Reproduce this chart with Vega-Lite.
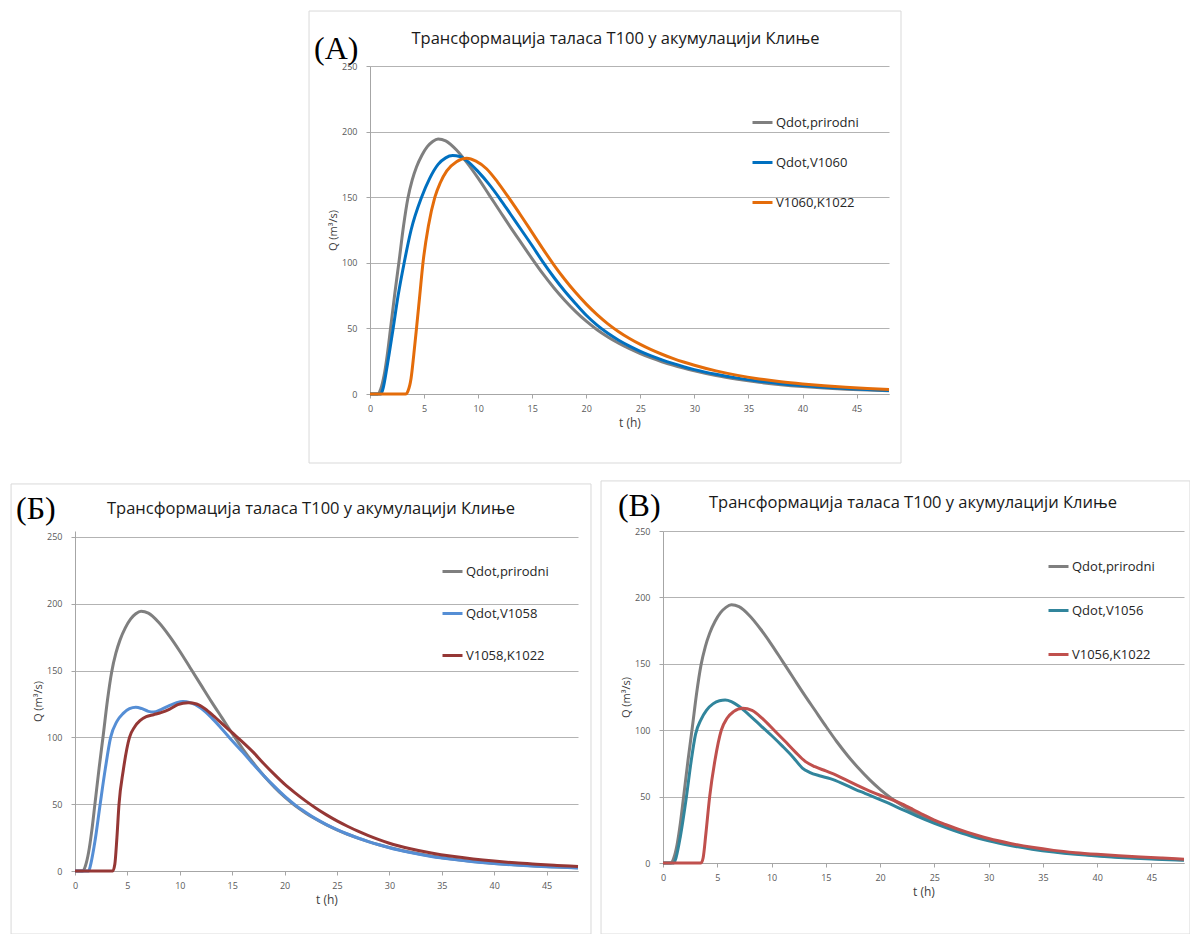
{
"$schema": "https://vega.github.io/schema/vega-lite/v6.json",
"padding": {"left": 10, "top": 10, "right": 0, "bottom": 0},
"background": "white",
"data": {"values": [
{"panel":"all","series":"Qdot,prirodni","t":0,"q":0},{"panel":"all","series":"Qdot,prirodni","t":0.7,"q":0},{"panel":"all","series":"Qdot,prirodni","t":1.0,"q":4},{"panel":"all","series":"Qdot,prirodni","t":1.3,"q":14},{"panel":"all","series":"Qdot,prirodni","t":1.6,"q":30},{"panel":"all","series":"Qdot,prirodni","t":1.9,"q":50},{"panel":"all","series":"Qdot,prirodni","t":2.3,"q":77},{"panel":"all","series":"Qdot,prirodni","t":2.7,"q":102},{"panel":"all","series":"Qdot,prirodni","t":3.1,"q":128},{"panel":"all","series":"Qdot,prirodni","t":3.5,"q":149},{"panel":"all","series":"Qdot,prirodni","t":3.9,"q":163},{"panel":"all","series":"Qdot,prirodni","t":4.3,"q":173},{"panel":"all","series":"Qdot,prirodni","t":4.8,"q":182},{"panel":"all","series":"Qdot,prirodni","t":5.3,"q":188.5},{"panel":"all","series":"Qdot,prirodni","t":5.8,"q":192.5},{"panel":"all","series":"Qdot,prirodni","t":6.3,"q":194.4},{"panel":"all","series":"Qdot,prirodni","t":7.0,"q":193},{"panel":"all","series":"Qdot,prirodni","t":8,"q":186},{"panel":"all","series":"Qdot,prirodni","t":9,"q":176},{"panel":"all","series":"Qdot,prirodni","t":10,"q":164.5},{"panel":"all","series":"Qdot,prirodni","t":11,"q":152},{"panel":"all","series":"Qdot,prirodni","t":12,"q":139.5},{"panel":"all","series":"Qdot,prirodni","t":13,"q":127},{"panel":"all","series":"Qdot,prirodni","t":14,"q":115},{"panel":"all","series":"Qdot,prirodni","t":15,"q":103},{"panel":"all","series":"Qdot,prirodni","t":16,"q":91.5},{"panel":"all","series":"Qdot,prirodni","t":17,"q":81},{"panel":"all","series":"Qdot,prirodni","t":18,"q":71.5},{"panel":"all","series":"Qdot,prirodni","t":19,"q":63},{"panel":"all","series":"Qdot,prirodni","t":20,"q":55.5},{"panel":"all","series":"Qdot,prirodni","t":21,"q":49},{"panel":"all","series":"Qdot,prirodni","t":22,"q":43.5},{"panel":"all","series":"Qdot,prirodni","t":23,"q":38.7},{"panel":"all","series":"Qdot,prirodni","t":24,"q":34.5},{"panel":"all","series":"Qdot,prirodni","t":25,"q":30.8},{"panel":"all","series":"Qdot,prirodni","t":26,"q":27.5},{"panel":"all","series":"Qdot,prirodni","t":27,"q":24.6},{"panel":"all","series":"Qdot,prirodni","t":28,"q":22},{"panel":"all","series":"Qdot,prirodni","t":29,"q":19.7},{"panel":"all","series":"Qdot,prirodni","t":30,"q":17.6},{"panel":"all","series":"Qdot,prirodni","t":32,"q":14},{"panel":"all","series":"Qdot,prirodni","t":34,"q":11.2},{"panel":"all","series":"Qdot,prirodni","t":36,"q":8.9},{"panel":"all","series":"Qdot,prirodni","t":38,"q":7.1},{"panel":"all","series":"Qdot,prirodni","t":40,"q":5.7},{"panel":"all","series":"Qdot,prirodni","t":42,"q":4.6},{"panel":"all","series":"Qdot,prirodni","t":44,"q":3.7},{"panel":"all","series":"Qdot,prirodni","t":46,"q":3},{"panel":"all","series":"Qdot,prirodni","t":48,"q":2.4},

{"panel":"A","series":"Qdot,V1060","t":0,"q":0},{"panel":"A","series":"Qdot,V1060","t":1.0,"q":0},{"panel":"A","series":"Qdot,V1060","t":1.2,"q":4},{"panel":"A","series":"Qdot,V1060","t":1.6,"q":22},{"panel":"A","series":"Qdot,V1060","t":2.14,"q":50},{"panel":"A","series":"Qdot,V1060","t":2.6,"q":75},{"panel":"A","series":"Qdot,V1060","t":3.16,"q":100},{"panel":"A","series":"Qdot,V1060","t":3.8,"q":125},{"panel":"A","series":"Qdot,V1060","t":4.77,"q":150},{"panel":"A","series":"Qdot,V1060","t":5.5,"q":164},{"panel":"A","series":"Qdot,V1060","t":6.3,"q":175},{"panel":"A","series":"Qdot,V1060","t":7.0,"q":180},{"panel":"A","series":"Qdot,V1060","t":7.65,"q":181.7},{"panel":"A","series":"Qdot,V1060","t":8.3,"q":181},{"panel":"A","series":"Qdot,V1060","t":9.0,"q":177.5},{"panel":"A","series":"Qdot,V1060","t":10,"q":169.5},{"panel":"A","series":"Qdot,V1060","t":11,"q":160},{"panel":"A","series":"Qdot,V1060","t":12,"q":149},{"panel":"A","series":"Qdot,V1060","t":13,"q":137},{"panel":"A","series":"Qdot,V1060","t":14,"q":125},{"panel":"A","series":"Qdot,V1060","t":15,"q":113},{"panel":"A","series":"Qdot,V1060","t":16,"q":100.5},{"panel":"A","series":"Qdot,V1060","t":17,"q":89},{"panel":"A","series":"Qdot,V1060","t":18,"q":78.5},{"panel":"A","series":"Qdot,V1060","t":19,"q":69},{"panel":"A","series":"Qdot,V1060","t":20,"q":60},{"panel":"A","series":"Qdot,V1060","t":21,"q":52.5},{"panel":"A","series":"Qdot,V1060","t":22,"q":46.3},{"panel":"A","series":"Qdot,V1060","t":23,"q":41},{"panel":"A","series":"Qdot,V1060","t":24,"q":36.5},{"panel":"A","series":"Qdot,V1060","t":25,"q":32.5},{"panel":"A","series":"Qdot,V1060","t":26,"q":29},{"panel":"A","series":"Qdot,V1060","t":27,"q":26},{"panel":"A","series":"Qdot,V1060","t":28,"q":23.3},{"panel":"A","series":"Qdot,V1060","t":29,"q":20.8},{"panel":"A","series":"Qdot,V1060","t":30,"q":18.6},{"panel":"A","series":"Qdot,V1060","t":32,"q":15},{"panel":"A","series":"Qdot,V1060","t":34,"q":12.1},{"panel":"A","series":"Qdot,V1060","t":36,"q":9.8},{"panel":"A","series":"Qdot,V1060","t":38,"q":7.9},{"panel":"A","series":"Qdot,V1060","t":40,"q":6.4},{"panel":"A","series":"Qdot,V1060","t":42,"q":5.2},{"panel":"A","series":"Qdot,V1060","t":44,"q":4.2},{"panel":"A","series":"Qdot,V1060","t":46,"q":3.4},{"panel":"A","series":"Qdot,V1060","t":48,"q":2.7},

{"panel":"A","series":"V1060,K1022","t":0,"q":0},{"panel":"A","series":"V1060,K1022","t":3.3,"q":0},{"panel":"A","series":"V1060,K1022","t":3.5,"q":2},{"panel":"A","series":"V1060,K1022","t":3.8,"q":12},{"panel":"A","series":"V1060,K1022","t":4.05,"q":30},{"panel":"A","series":"V1060,K1022","t":4.3,"q":50},{"panel":"A","series":"V1060,K1022","t":4.6,"q":75},{"panel":"A","series":"V1060,K1022","t":4.9,"q":100},{"panel":"A","series":"V1060,K1022","t":5.4,"q":128},{"panel":"A","series":"V1060,K1022","t":6.0,"q":150},{"panel":"A","series":"V1060,K1022","t":6.5,"q":161},{"panel":"A","series":"V1060,K1022","t":7.1,"q":170},{"panel":"A","series":"V1060,K1022","t":8.0,"q":177},{"panel":"A","series":"V1060,K1022","t":8.95,"q":179.6},{"panel":"A","series":"V1060,K1022","t":9.8,"q":177.5},{"panel":"A","series":"V1060,K1022","t":10.8,"q":171.5},{"panel":"A","series":"V1060,K1022","t":11.8,"q":161.5},{"panel":"A","series":"V1060,K1022","t":12.8,"q":150},{"panel":"A","series":"V1060,K1022","t":14,"q":135.5},{"panel":"A","series":"V1060,K1022","t":15,"q":123},{"panel":"A","series":"V1060,K1022","t":16,"q":110.5},{"panel":"A","series":"V1060,K1022","t":17,"q":98.5},{"panel":"A","series":"V1060,K1022","t":18,"q":87.5},{"panel":"A","series":"V1060,K1022","t":19,"q":77.5},{"panel":"A","series":"V1060,K1022","t":20,"q":68.5},{"panel":"A","series":"V1060,K1022","t":21,"q":60.5},{"panel":"A","series":"V1060,K1022","t":22,"q":53.5},{"panel":"A","series":"V1060,K1022","t":23,"q":47.5},{"panel":"A","series":"V1060,K1022","t":24,"q":42.3},{"panel":"A","series":"V1060,K1022","t":25,"q":37.8},{"panel":"A","series":"V1060,K1022","t":26,"q":33.8},{"panel":"A","series":"V1060,K1022","t":27,"q":30.3},{"panel":"A","series":"V1060,K1022","t":28,"q":27.2},{"panel":"A","series":"V1060,K1022","t":29,"q":24.4},{"panel":"A","series":"V1060,K1022","t":30,"q":21.9},{"panel":"A","series":"V1060,K1022","t":32,"q":17.6},{"panel":"A","series":"V1060,K1022","t":34,"q":14.2},{"panel":"A","series":"V1060,K1022","t":36,"q":11.5},{"panel":"A","series":"V1060,K1022","t":38,"q":9.3},{"panel":"A","series":"V1060,K1022","t":40,"q":7.6},{"panel":"A","series":"V1060,K1022","t":42,"q":6.2},{"panel":"A","series":"V1060,K1022","t":44,"q":5.1},{"panel":"A","series":"V1060,K1022","t":46,"q":4.2},{"panel":"A","series":"V1060,K1022","t":48,"q":3.5},

{"panel":"B","series":"Qdot,V1058","t":0,"q":0},{"panel":"B","series":"Qdot,V1058","t":1.3,"q":0},{"panel":"B","series":"Qdot,V1058","t":1.5,"q":5},{"panel":"B","series":"Qdot,V1058","t":1.9,"q":22},{"panel":"B","series":"Qdot,V1058","t":2.4,"q":50},{"panel":"B","series":"Qdot,V1058","t":2.9,"q":77},{"panel":"B","series":"Qdot,V1058","t":3.4,"q":100},{"panel":"B","series":"Qdot,V1058","t":4.0,"q":112},{"panel":"B","series":"Qdot,V1058","t":4.6,"q":118},{"panel":"B","series":"Qdot,V1058","t":5.2,"q":121.5},{"panel":"B","series":"Qdot,V1058","t":5.8,"q":122.6},{"panel":"B","series":"Qdot,V1058","t":6.4,"q":121.5},{"panel":"B","series":"Qdot,V1058","t":7.0,"q":119.5},{"panel":"B","series":"Qdot,V1058","t":7.5,"q":119},{"panel":"B","series":"Qdot,V1058","t":8.2,"q":120.8},{"panel":"B","series":"Qdot,V1058","t":9.0,"q":123.8},{"panel":"B","series":"Qdot,V1058","t":9.7,"q":126},{"panel":"B","series":"Qdot,V1058","t":10.3,"q":126.9},{"panel":"B","series":"Qdot,V1058","t":11,"q":126},{"panel":"B","series":"Qdot,V1058","t":12,"q":122},{"panel":"B","series":"Qdot,V1058","t":13,"q":115},{"panel":"B","series":"Qdot,V1058","t":14,"q":106.5},{"panel":"B","series":"Qdot,V1058","t":15,"q":97.5},{"panel":"B","series":"Qdot,V1058","t":16,"q":89},{"panel":"B","series":"Qdot,V1058","t":17,"q":80},{"panel":"B","series":"Qdot,V1058","t":18,"q":71.5},{"panel":"B","series":"Qdot,V1058","t":19,"q":63.5},{"panel":"B","series":"Qdot,V1058","t":20,"q":56},{"panel":"B","series":"Qdot,V1058","t":21,"q":49.5},{"panel":"B","series":"Qdot,V1058","t":22,"q":44},{"panel":"B","series":"Qdot,V1058","t":23,"q":39},{"panel":"B","series":"Qdot,V1058","t":24,"q":34.7},{"panel":"B","series":"Qdot,V1058","t":25,"q":31},{"panel":"B","series":"Qdot,V1058","t":26,"q":27.7},{"panel":"B","series":"Qdot,V1058","t":27,"q":24.7},{"panel":"B","series":"Qdot,V1058","t":28,"q":22},{"panel":"B","series":"Qdot,V1058","t":29,"q":19.6},{"panel":"B","series":"Qdot,V1058","t":30,"q":17.4},{"panel":"B","series":"Qdot,V1058","t":32,"q":13.8},{"panel":"B","series":"Qdot,V1058","t":34,"q":10.9},{"panel":"B","series":"Qdot,V1058","t":36,"q":8.7},{"panel":"B","series":"Qdot,V1058","t":38,"q":6.9},{"panel":"B","series":"Qdot,V1058","t":40,"q":5.6},{"panel":"B","series":"Qdot,V1058","t":42,"q":4.5},{"panel":"B","series":"Qdot,V1058","t":44,"q":3.6},{"panel":"B","series":"Qdot,V1058","t":46,"q":2.9},{"panel":"B","series":"Qdot,V1058","t":48,"q":2.2},

{"panel":"B","series":"V1058,K1022","t":0,"q":0},{"panel":"B","series":"V1058,K1022","t":3.6,"q":0},{"panel":"B","series":"V1058,K1022","t":3.8,"q":5},{"panel":"B","series":"V1058,K1022","t":4.0,"q":25},{"panel":"B","series":"V1058,K1022","t":4.2,"q":50},{"panel":"B","series":"V1058,K1022","t":4.6,"q":75},{"panel":"B","series":"V1058,K1022","t":5.2,"q":100},{"panel":"B","series":"V1058,K1022","t":5.7,"q":108},{"panel":"B","series":"V1058,K1022","t":6.2,"q":112.5},{"panel":"B","series":"V1058,K1022","t":6.8,"q":115.5},{"panel":"B","series":"V1058,K1022","t":7.5,"q":117},{"panel":"B","series":"V1058,K1022","t":8.2,"q":118.5},{"panel":"B","series":"V1058,K1022","t":9.0,"q":121},{"panel":"B","series":"V1058,K1022","t":9.8,"q":124.5},{"panel":"B","series":"V1058,K1022","t":10.8,"q":126},{"panel":"B","series":"V1058,K1022","t":11.6,"q":125},{"panel":"B","series":"V1058,K1022","t":12.4,"q":121.5},{"panel":"B","series":"V1058,K1022","t":13.3,"q":115.5},{"panel":"B","series":"V1058,K1022","t":14,"q":110.5},{"panel":"B","series":"V1058,K1022","t":15,"q":103.5},{"panel":"B","series":"V1058,K1022","t":16,"q":96.5},{"panel":"B","series":"V1058,K1022","t":17,"q":89},{"panel":"B","series":"V1058,K1022","t":18,"q":80.5},{"panel":"B","series":"V1058,K1022","t":19,"q":72.5},{"panel":"B","series":"V1058,K1022","t":20,"q":65},{"panel":"B","series":"V1058,K1022","t":21,"q":58.5},{"panel":"B","series":"V1058,K1022","t":22,"q":52.5},{"panel":"B","series":"V1058,K1022","t":23,"q":47},{"panel":"B","series":"V1058,K1022","t":24,"q":42},{"panel":"B","series":"V1058,K1022","t":25,"q":37.5},{"panel":"B","series":"V1058,K1022","t":26,"q":33.5},{"panel":"B","series":"V1058,K1022","t":27,"q":29.8},{"panel":"B","series":"V1058,K1022","t":28,"q":26.5},{"panel":"B","series":"V1058,K1022","t":29,"q":23.5},{"panel":"B","series":"V1058,K1022","t":30,"q":20.8},{"panel":"B","series":"V1058,K1022","t":32,"q":16.7},{"panel":"B","series":"V1058,K1022","t":34,"q":13.5},{"panel":"B","series":"V1058,K1022","t":36,"q":11},{"panel":"B","series":"V1058,K1022","t":38,"q":9},{"panel":"B","series":"V1058,K1022","t":40,"q":7.4},{"panel":"B","series":"V1058,K1022","t":42,"q":6.1},{"panel":"B","series":"V1058,K1022","t":44,"q":5.1},{"panel":"B","series":"V1058,K1022","t":46,"q":4.2},{"panel":"B","series":"V1058,K1022","t":48,"q":3.3},

{"panel":"V","series":"Qdot,V1056","t":0,"q":0},{"panel":"V","series":"Qdot,V1056","t":1.0,"q":0},{"panel":"V","series":"Qdot,V1056","t":1.2,"q":4},{"panel":"V","series":"Qdot,V1056","t":1.6,"q":20},{"panel":"V","series":"Qdot,V1056","t":2.16,"q":50},{"panel":"V","series":"Qdot,V1056","t":2.6,"q":77},{"panel":"V","series":"Qdot,V1056","t":3.0,"q":97},{"panel":"V","series":"Qdot,V1056","t":3.5,"q":108},{"panel":"V","series":"Qdot,V1056","t":4.0,"q":115},{"panel":"V","series":"Qdot,V1056","t":4.6,"q":119.8},{"panel":"V","series":"Qdot,V1056","t":5.2,"q":122.2},{"panel":"V","series":"Qdot,V1056","t":5.73,"q":122.7},{"panel":"V","series":"Qdot,V1056","t":6.3,"q":121.5},{"panel":"V","series":"Qdot,V1056","t":7.0,"q":118},{"panel":"V","series":"Qdot,V1056","t":8.0,"q":111},{"panel":"V","series":"Qdot,V1056","t":9.0,"q":103.5},{"panel":"V","series":"Qdot,V1056","t":10,"q":96},{"panel":"V","series":"Qdot,V1056","t":11,"q":88},{"panel":"V","series":"Qdot,V1056","t":12,"q":79.5},{"panel":"V","series":"Qdot,V1056","t":12.84,"q":71.5},{"panel":"V","series":"Qdot,V1056","t":13.5,"q":68.3},{"panel":"V","series":"Qdot,V1056","t":14.5,"q":65.5},{"panel":"V","series":"Qdot,V1056","t":15.4,"q":63.5},{"panel":"V","series":"Qdot,V1056","t":16.5,"q":60},{"panel":"V","series":"Qdot,V1056","t":17.7,"q":55.5},{"panel":"V","series":"Qdot,V1056","t":18.6,"q":52.5},{"panel":"V","series":"Qdot,V1056","t":19.5,"q":49.5},{"panel":"V","series":"Qdot,V1056","t":20.5,"q":46},{"panel":"V","series":"Qdot,V1056","t":21.5,"q":42.3},{"panel":"V","series":"Qdot,V1056","t":22.5,"q":38.6},{"panel":"V","series":"Qdot,V1056","t":23.5,"q":35},{"panel":"V","series":"Qdot,V1056","t":24.5,"q":31.5},{"panel":"V","series":"Qdot,V1056","t":25.5,"q":28.3},{"panel":"V","series":"Qdot,V1056","t":26.5,"q":25.3},{"panel":"V","series":"Qdot,V1056","t":27.5,"q":22.5},{"panel":"V","series":"Qdot,V1056","t":28.5,"q":20},{"panel":"V","series":"Qdot,V1056","t":30,"q":16.7},{"panel":"V","series":"Qdot,V1056","t":32,"q":13.2},{"panel":"V","series":"Qdot,V1056","t":34,"q":10.4},{"panel":"V","series":"Qdot,V1056","t":36,"q":8.2},{"panel":"V","series":"Qdot,V1056","t":38,"q":6.5},{"panel":"V","series":"Qdot,V1056","t":40,"q":5.2},{"panel":"V","series":"Qdot,V1056","t":42,"q":4.2},{"panel":"V","series":"Qdot,V1056","t":44,"q":3.4},{"panel":"V","series":"Qdot,V1056","t":46,"q":2.7},{"panel":"V","series":"Qdot,V1056","t":48,"q":2.1},

{"panel":"V","series":"V1056,K1022","t":0,"q":0},{"panel":"V","series":"V1056,K1022","t":3.5,"q":0},{"panel":"V","series":"V1056,K1022","t":3.7,"q":4},{"panel":"V","series":"V1056,K1022","t":3.95,"q":22},{"panel":"V","series":"V1056,K1022","t":4.3,"q":50},{"panel":"V","series":"V1056,K1022","t":4.8,"q":78},{"panel":"V","series":"V1056,K1022","t":5.37,"q":100},{"panel":"V","series":"V1056,K1022","t":5.9,"q":109},{"panel":"V","series":"V1056,K1022","t":6.5,"q":114},{"panel":"V","series":"V1056,K1022","t":7.35,"q":116.6},{"panel":"V","series":"V1056,K1022","t":8.2,"q":115},{"panel":"V","series":"V1056,K1022","t":9.2,"q":108.5},{"panel":"V","series":"V1056,K1022","t":10.24,"q":100},{"panel":"V","series":"V1056,K1022","t":11.2,"q":92},{"panel":"V","series":"V1056,K1022","t":12.2,"q":83.5},{"panel":"V","series":"V1056,K1022","t":13.1,"q":76.5},{"panel":"V","series":"V1056,K1022","t":14,"q":72.5},{"panel":"V","series":"V1056,K1022","t":15,"q":69.3},{"panel":"V","series":"V1056,K1022","t":16,"q":66},{"panel":"V","series":"V1056,K1022","t":17,"q":62},{"panel":"V","series":"V1056,K1022","t":18,"q":58},{"panel":"V","series":"V1056,K1022","t":19,"q":54.3},{"panel":"V","series":"V1056,K1022","t":20,"q":51},{"panel":"V","series":"V1056,K1022","t":21,"q":48},{"panel":"V","series":"V1056,K1022","t":22,"q":44.5},{"panel":"V","series":"V1056,K1022","t":23,"q":40.5},{"panel":"V","series":"V1056,K1022","t":24,"q":36.3},{"panel":"V","series":"V1056,K1022","t":25,"q":32.3},{"panel":"V","series":"V1056,K1022","t":26,"q":29},{"panel":"V","series":"V1056,K1022","t":27,"q":26},{"panel":"V","series":"V1056,K1022","t":28,"q":23.2},{"panel":"V","series":"V1056,K1022","t":29,"q":20.7},{"panel":"V","series":"V1056,K1022","t":30,"q":18.4},{"panel":"V","series":"V1056,K1022","t":32,"q":14.7},{"panel":"V","series":"V1056,K1022","t":34,"q":11.8},{"panel":"V","series":"V1056,K1022","t":36,"q":9.5},{"panel":"V","series":"V1056,K1022","t":38,"q":7.8},{"panel":"V","series":"V1056,K1022","t":40,"q":6.5},{"panel":"V","series":"V1056,K1022","t":42,"q":5.4},{"panel":"V","series":"V1056,K1022","t":44,"q":4.5},{"panel":"V","series":"V1056,K1022","t":46,"q":3.7},{"panel":"V","series":"V1056,K1022","t":48,"q":2.9}
]},
"vconcat": [
{
"hconcat": [
{"width": 233, "height": 1, "data": {"values": [{}]}, "mark": {"type": "text", "text": ""}},
{
"width": 519, "height": 328,
"layer": [
{"transform": [{"filter": "datum.panel == 'A' || datum.panel == 'all'"}],
 "mark": {"type": "line", "interpolate": "monotone", "strokeWidth": 3},
 "encoding": {
  "x": {"field": "t", "type": "quantitative", "scale": {"domain": [0, 48], "nice": false, "zero": false}, "axis": {"title": "t (h)", "values": [0,5,10,15,20,25,30,35,40,45]}},
  "y": {"field": "q", "type": "quantitative", "scale": {"domain": [0, 250], "nice": false}, "axis": {"title": "Q (m³/s)", "values": [0,50,100,150,200,250]}},
  "color": {"field": "series", "type": "nominal", "scale": {"domain": ["Qdot,prirodni","Qdot,V1060","V1060,K1022"], "range": ["#7f7f7f","#0070c0","#e46c0a"]},
   "legend": {"orient": "none", "legendX": 381, "legendY": 45, "rowPadding": 21}}
 }},
{"data": {"values": [{}]}, "mark": {"type": "rect", "filled": false, "stroke": "#d9d9d9", "strokeWidth": 1},
 "encoding": {"x": {"datum": -5.64, "type": "quantitative", "scale": {"domain": [0, 48], "nice": false, "zero": false}, "axis": {"title": "t (h)", "values": [0,5,10,15,20,25,30,35,40,45]}}, "x2": {"datum": 49.11}, "y": {"datum": 291.9, "type": "quantitative", "scale": {"domain": [0, 250], "nice": false}, "axis": {"title": "Q (m³/s)", "values": [0,50,100,150,200,250]}}, "y2": {"datum": -52.6}}},
{"data": {"values": [{}]}, "mark": {"type": "text", "text": "Трансформација таласа Т100 у акумулацији Клиње", "font": "Open Sans", "fontSize": 16.5, "color": "#1a1a1a", "align": "center", "baseline": "alphabetic"},
 "encoding": {"x": {"datum": 22.7, "type": "quantitative", "scale": {"domain": [0, 48], "nice": false, "zero": false}, "axis": {"title": "t (h)", "values": [0,5,10,15,20,25,30,35,40,45]}}, "y": {"datum": 266.8, "type": "quantitative", "scale": {"domain": [0, 250], "nice": false}, "axis": {"title": "Q (m³/s)", "values": [0,50,100,150,200,250]}}}},
{"data": {"values": [{}]}, "mark": {"type": "text", "text": "(A)", "font": "Liberation Serif", "fontSize": 32, "color": "#000000", "align": "left", "baseline": "alphabetic"},
 "encoding": {"x": {"datum": -5.18, "type": "quantitative", "scale": {"domain": [0, 48], "nice": false, "zero": false}, "axis": {"title": "t (h)", "values": [0,5,10,15,20,25,30,35,40,45]}}, "y": {"datum": 255.3, "type": "quantitative", "scale": {"domain": [0, 250], "nice": false}, "axis": {"title": "Q (m³/s)", "values": [0,50,100,150,200,250]}}}}
]
}
],
"spacing": 0,
"align": "none",
"resolve": {"scale": {"color": "independent"}, "legend": {"color": "independent"}}
},
{
"hconcat": [
{
"width": 503, "height": 340,
"layer": [
{"transform": [{"filter": "datum.panel == 'B' || datum.panel == 'all'"}],
 "mark": {"type": "line", "interpolate": "monotone", "strokeWidth": 3},
 "encoding": {
  "x": {"field": "t", "type": "quantitative", "scale": {"domain": [0, 48], "nice": false, "zero": false}, "axis": {"title": "t (h)", "values": [0,5,10,15,20,25,30,35,40,45]}},
  "y": {"field": "q", "type": "quantitative", "scale": {"domain": [0, 254.49], "nice": false}, "axis": {"title": "Q (m³/s)", "values": [0,50,100,150,200,250]}},
  "color": {"field": "series", "type": "nominal", "scale": {"domain": ["Qdot,prirodni","Qdot,V1058","V1058,K1022"], "range": ["#7f7f7f","#558ed5","#953735"]},
   "legend": {"orient": "none", "legendX": 366, "legendY": 29, "rowPadding": 23}}
 }},
{"data": {"values": [{}]}, "mark": {"type": "rect", "filled": false, "stroke": "#d9d9d9", "strokeWidth": 1},
 "encoding": {"x": {"datum": -6.1, "type": "quantitative", "scale": {"domain": [0, 48], "nice": false, "zero": false}, "axis": {"title": "t (h)", "values": [0,5,10,15,20,25,30,35,40,45]}}, "x2": {"datum": 49.24}, "y": {"datum": 289.7, "type": "quantitative", "scale": {"domain": [0, 254.49], "nice": false}, "axis": {"title": "Q (m³/s)", "values": [0,50,100,150,200,250]}}, "y2": {"datum": -47.2}}},
{"data": {"values": [{}]}, "mark": {"type": "text", "text": "Трансформација таласа Т100 у акумулацији Клиње", "font": "Open Sans", "fontSize": 16.5, "color": "#1a1a1a", "align": "center", "baseline": "alphabetic"},
 "encoding": {"x": {"datum": 22.52, "type": "quantitative", "scale": {"domain": [0, 48], "nice": false, "zero": false}, "axis": {"title": "t (h)", "values": [0,5,10,15,20,25,30,35,40,45]}}, "y": {"datum": 267.2, "type": "quantitative", "scale": {"domain": [0, 254.49], "nice": false}, "axis": {"title": "Q (m³/s)", "values": [0,50,100,150,200,250]}}}},
{"data": {"values": [{}]}, "mark": {"type": "text", "text": "(Б)", "font": "Liberation Serif", "fontSize": 32, "color": "#000000", "align": "left", "baseline": "alphabetic"},
 "encoding": {"x": {"datum": -5.63, "type": "quantitative", "scale": {"domain": [0, 48], "nice": false, "zero": false}, "axis": {"title": "t (h)", "values": [0,5,10,15,20,25,30,35,40,45]}}, "y": {"datum": 263.5, "type": "quantitative", "scale": {"domain": [0, 254.49], "nice": false}, "axis": {"title": "Q (m³/s)", "values": [0,50,100,150,200,250]}}}}
]
},
{
"width": 521, "height": 332,
"layer": [
{"transform": [{"filter": "datum.panel == 'V' || datum.panel == 'all'"}],
 "mark": {"type": "line", "interpolate": "monotone", "strokeWidth": 3},
 "encoding": {
  "x": {"field": "t", "type": "quantitative", "scale": {"domain": [0, 48], "nice": false, "zero": false}, "axis": {"title": "t (h)", "values": [0,5,10,15,20,25,30,35,40,45]}},
  "y": {"field": "q", "type": "quantitative", "scale": {"domain": [0, 250], "nice": false}, "axis": {"title": "Q (m³/s)", "values": [0,50,100,150,200,250]}},
  "color": {"field": "series", "type": "nominal", "scale": {"domain": ["Qdot,prirodni","Qdot,V1056","V1056,K1022"], "range": ["#7f7f7f","#31859c","#c0504d"]},
   "legend": {"orient": "none", "legendX": 384, "legendY": 24, "rowPadding": 25}}
 }},
{"data": {"values": [{}]}, "mark": {"type": "rect", "filled": false, "stroke": "#d9d9d9", "strokeWidth": 1},
 "encoding": {"x": {"datum": -5.71, "type": "quantitative", "scale": {"domain": [0, 48], "nice": false, "zero": false}, "axis": {"title": "t (h)", "values": [0,5,10,15,20,25,30,35,40,45]}}, "x2": {"datum": 48.55}, "y": {"datum": 287.7, "type": "quantitative", "scale": {"domain": [0, 250], "nice": false}, "axis": {"title": "Q (m³/s)", "values": [0,50,100,150,200,250]}}, "y2": {"datum": -53.5}}},
{"data": {"values": [{}]}, "mark": {"type": "text", "text": "Трансформација таласа Т100 у акумулацији Клиње", "font": "Open Sans", "fontSize": 16.5, "color": "#1a1a1a", "align": "center", "baseline": "alphabetic"},
 "encoding": {"x": {"datum": 23.03, "type": "quantitative", "scale": {"domain": [0, 48], "nice": false, "zero": false}, "axis": {"title": "t (h)", "values": [0,5,10,15,20,25,30,35,40,45]}}, "y": {"datum": 267.3, "type": "quantitative", "scale": {"domain": [0, 250], "nice": false}, "axis": {"title": "Q (m³/s)", "values": [0,50,100,150,200,250]}}}},
{"data": {"values": [{}]}, "mark": {"type": "text", "text": "(В)", "font": "Liberation Serif", "fontSize": 32, "color": "#000000", "align": "left", "baseline": "alphabetic"},
 "encoding": {"x": {"datum": -4.15, "type": "quantitative", "scale": {"domain": [0, 48], "nice": false, "zero": false}, "axis": {"title": "t (h)", "values": [0,5,10,15,20,25,30,35,40,45]}}, "y": {"datum": 261.3, "type": "quantitative", "scale": {"domain": [0, 250], "nice": false}, "axis": {"title": "Q (m³/s)", "values": [0,50,100,150,200,250]}}}}
]
}
],
"spacing": 8,
"align": "none",
"resolve": {"scale": {"color": "independent"}, "legend": {"color": "independent"}}
}
],
"spacing": 16,
"align": "none",
"resolve": {"scale": {"color": "independent"}, "legend": {"color": "independent"}},
"config": {
 "view": {"stroke": null},
 "axis": {"labelFont": "Open Sans", "labelFontSize": 9, "labelColor": "#595959", "titleFont": "Open Sans", "titleFontSize": 11, "titleFontWeight": "normal", "titleColor": "#404040", "domainColor": "#a6a6a6", "tickColor": "#a6a6a6", "tickSize": 4, "gridColor": "#b3b3b3", "labelFlush": false},
 "axisX": {"grid": false, "labelPadding": 6, "titlePadding": 4, "titleFontSize": 12},
 "axisY": {"grid": true, "labelPadding": 9, "titlePadding": 3},
 "legend": {"title": null, "symbolType": "stroke", "symbolSize": 400, "symbolStrokeWidth": 3, "labelFont": "Open Sans", "labelFontSize": 13, "labelColor": "#262626", "labelOffset": 2, "padding": 0}
}
}
